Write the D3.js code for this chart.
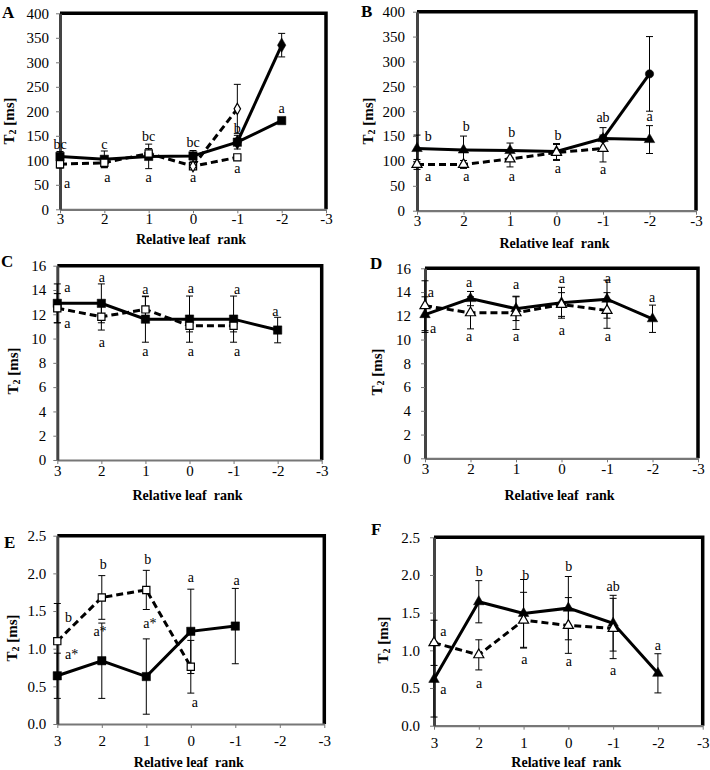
<!DOCTYPE html>
<html><head><meta charset="utf-8">
<script src="https://cdn.jsdelivr.net/npm/d3@7"></script>
<style>
body{margin:0;background:#fff}
svg{display:block}
text{font-family:"Liberation Serif","Times New Roman",serif;fill:#000}
</style>
</head><body>
<svg id="chart" width="710" height="770"></svg>
<script>
// ---------- data ----------
const ranks = [3, 2, 1, 0, -1, -2];
const xTickValues = [3, 2, 1, 0, -1, -2, -3];
const yTicksAB = [0, 50, 100, 150, 200, 250, 300, 350, 400];
const yTicksCD = [0, 2, 4, 6, 8, 10, 12, 14, 16];
const yTicksEF = [0, 0.5, 1.0, 1.5, 2.0, 2.5];

// Panel A
const A_filledSquare    = [108, 102, 108, 109, 137, 181];
const A_filledSquareErr = [10, 17, 25, 11, 14, 0];
const A_filledDiamond    = [null, null, null, null, 137, 335];
const A_filledDiamondErr = [null, null, null, null, 0, 24];
const A_openSquare    = [92, 95, 114, 88, 106, null];
const A_openSquareErr = [8, 10, 10, 5, 5, null];
const A_openDiamond    = [null, null, null, 88, 205, null];
const A_openDiamondErr = [null, null, null, 0, 50, null];
const A_labels = [[3, 133, "bc"], [2.84, 53, "a"], [2, 133, "c"], [1.93, 65, "a"], [1, 148, "bc"], [1, 65, "a"],
                  [0, 136, "bc"], [0, 65, "a"], [-1, 165, "b"], [-1, 84, "a"], [-2, 206, "a"]];

// Panel B
const B_filledTriangle    = [125, 122, 121, 119, 145, 143];
const B_filledTriangleErr = [27, 28, 15, 16, 22, 28];
const B_filledCircle    = [null, null, null, null, 145, 275];
const B_filledCircleErr = [null, null, null, null, 0, 75];
const B_openTriangle    = [93, 93, 104, 117, 125, null];
const B_openTriangleErr = [10, 8, 16, 16, 27, null];
const B_labels = [[2.76, 150, "b"], [2.76, 68, "a"], [1.94, 169, "b"], [1.94, 68, "a"], [0.96, 157, "b"], [0.96, 68, "a"],
                  [-0.03, 152, "b"], [-0.03, 85, "a"], [-1, 188, "ab"], [-1, 83, "a"], [-2, 190, "a"]];

// Panel C
const C_filledSquare    = [12.9, 12.9, 11.6, 11.6, 11.6, 10.7];
const C_filledSquareErr = [1.6, 1.6, 1.9, 1.9, 1.9, 1.05];
const C_openSquare    = [12.5, 11.8, 12.4, 11.05, 11.05, null];
const C_openSquareErr = [1.2, 1.1, 1.05, 0.5, 0.5, null];
const C_labels = [[2.77, 14.2, "a"], [2.77, 11.25, "a"], [1.99, 15.0, "a"], [1.99, 9.7, "a"], [1, 14.0, "a"], [1, 8.9, "a"],
                  [-0.03, 14.1, "a"], [-0.03, 8.9, "a"], [-1.08, 14.0, "a"], [-1.08, 8.9, "a"], [-1.95, 12.2, "a"]];

// Panel D
const D_filledTriangle    = [12.1, 13.45, 12.6, 13.1, 13.4, 11.75];
const D_filledTriangleErr = [1.5, 0.6, 1.0, 1.3, 1.6, 1.15];
const D_openTriangle    = [12.85, 12.25, 12.25, 12.95, 12.45, null];
const D_openTriangleErr = [2.1, 1.35, 1.4, 1.0, 1.5, null];
const D_labels = [[2.87, 14.0, "a"], [2.82, 10.9, "a"], [2.03, 14.8, "a"], [2.03, 10.25, "a"], [1, 14.6, "a"], [1, 10.25, "a"],
                  [-0.01, 15.1, "a"], [-0.01, 10.8, "a"], [-1.02, 15.15, "a"], [-1.02, 10.25, "a"], [-1.99, 13.5, "a"]];

// Panel E
const E_filledSquare    = [0.64, 0.84, 0.63, 1.23, 1.30, null];
const E_filledSquareErr = [0.3, 0.5, 0.5, 0.56, 0.5, null];
const E_openSquare    = [1.10, 1.68, 1.78, 0.76, null, null];
const E_openSquareErr = [0.5, 0.29, 0.26, 0.35, null, null];
const E_labels = [[2.75, 1.41, "b"], [2.68, 0.92, "a*"], [1.97, 2.12, "b"], [2.04, 1.23, "a*"], [0.97, 2.19, "b"], [0.92, 1.34, "a*"],
                  [0, 1.94, "a"], [-0.09, 0.29, "a"], [-1.03, 1.91, "a"]];

// Panel F
const F_filledTriangle    = [0.615, 1.645, 1.49, 1.56, 1.36, 0.695];
const F_filledTriangleErr = [0.5, 0.28, 0.45, 0.42, 0.37, 0.26];
const F_openTriangle    = [1.10, 0.94, 1.40, 1.33, 1.29, null];
const F_openTriangleErr = [0.3, 0.2, 0.37, 0.37, 0.4, null];
const F_labels = [[2.79, 1.25, "a"], [2.79, 0.48, "a"], [1.99, 2.05, "b"], [1.99, 0.56, "a"], [0.95, 1.99, "b"], [0.98, 0.885, "a"],
                  [-0.01, 2.11, "b"], [-0.01, 0.85, "a"], [-1, 1.85, "ab"], [-1, 0.73, "a"], [-2, 1.07, "a"]];

// ---------- layout ----------
const panels = [
  {letter: "A", box: [60, 13.3, 326, 209.3], ticks: yTicksAB, fmt: d3.format("d"), letterPos: [2, 18], ylab: [9, 121], xlabY: 239, xtickOff: 4, ytickGap: 11,
   series: [
     {v: A_filledSquare, e: A_filledSquareErr, shape: "square", filled: true},
     {v: A_filledDiamond, e: A_filledDiamondErr, shape: "diamond", filled: true},
     {v: A_openSquare, e: A_openSquareErr, shape: "square", filled: false},
     {v: A_openDiamond, e: A_openDiamondErr, shape: "diamond", filled: false}],
   labels: A_labels},
  {letter: "B", box: [417, 11.7, 696, 210.7], ticks: yTicksAB, fmt: d3.format("d"), letterPos: [361, 17], ylab: [368, 121], xlabY: 243, xtickOff: 5, ytickGap: 12,
   series: [
     {v: B_filledCircle, e: B_filledCircleErr, shape: "circle", filled: true},
     {v: B_filledTriangle, e: B_filledTriangleErr, shape: "triangle", filled: true},
     {v: B_openTriangle, e: B_openTriangleErr, shape: "triangle", filled: false}],
   labels: B_labels},
  {letter: "C", box: [57.3, 265.7, 321.7, 460], ticks: yTicksCD, fmt: d3.format("d"), letterPos: [1, 267], ylab: [13, 371], xlabY: 495, xtickOff: 5, ytickGap: 11,
   series: [
     {v: C_filledSquare, e: C_filledSquareErr, shape: "square", filled: true},
     {v: C_openSquare, e: C_openSquareErr, shape: "square", filled: false}],
   labels: C_labels},
  {letter: "D", box: [425, 268.3, 698, 458.3], ticks: yTicksCD, fmt: d3.format("d"), letterPos: [370, 269], ylab: [377, 372], xlabY: 495, xtickOff: 5, ytickGap: 14,
   series: [
     {v: D_filledTriangle, e: D_filledTriangleErr, shape: "triangle", filled: true},
     {v: D_openTriangle, e: D_openTriangleErr, shape: "triangle", filled: false}],
   labels: D_labels},
  {letter: "E", box: [57.3, 535.7, 324.3, 724], ticks: yTicksEF, fmt: d3.format(".1f"), letterPos: [4, 548], ylab: [12, 638], xlabY: 762, xtickOff: 11, ytickGap: 11,
   series: [
     {v: E_filledSquare, e: E_filledSquareErr, shape: "square", filled: true},
     {v: E_openSquare, e: E_openSquareErr, shape: "square", filled: false}],
   labels: E_labels},
  {letter: "F", box: [434, 537.3, 702.7, 725.7], ticks: yTicksEF, fmt: d3.format(".1f"), letterPos: [371, 535], ylab: [383, 640], xlabY: 762, xtickOff: 12, ytickGap: 14,
   series: [
     {v: F_filledTriangle, e: F_filledTriangleErr, shape: "triangle", filled: true},
     {v: F_openTriangle, e: F_openTriangleErr, shape: "triangle", filled: false}],
   labels: F_labels}
];

const svg = d3.select("#chart");

const symbolFor = {
  square: {filled: d3.symbol().type(d3.symbolSquare).size(70), open: d3.symbol().type(d3.symbolSquare).size(52)},
  diamond: {filled: d3.symbol().type(d3.symbolDiamond).size(60), open: d3.symbol().type(d3.symbolDiamond).size(36)},
  triangle: {filled: d3.symbol().type(d3.symbolTriangle).size(48), open: d3.symbol().type(d3.symbolTriangle).size(44)},
  circle: {filled: d3.symbol().type(d3.symbolCircle).size(55), open: d3.symbol().type(d3.symbolCircle).size(45)}
};

panels.forEach(p => {
  const [L, T, R, B] = p.box;
  const g = svg.append("g");
  const x = d3.scaleLinear().domain([3, -3]).range([L, R]);
  const yMax = p.ticks[p.ticks.length - 1];
  const y = d3.scaleLinear().domain([0, yMax]).range([B, T]);

  // frame (top and right)
  g.append("path").attr("d", `M${L},${T}H${R}V${B}`).attr("fill", "none").attr("stroke", "#000").attr("stroke-width", 3.5);

  // x axis
  const xAxis = d3.axisBottom(x).tickValues(xTickValues).tickFormat(d => String(d)).tickSize(4).tickSizeOuter(0);
  const gx = g.append("g").attr("transform", `translate(0,${B})`).call(xAxis);
  gx.attr("font-family", null);
  gx.select(".domain").attr("stroke", "#777").attr("stroke-width", 2.2);
  gx.selectAll(".tick line").attr("stroke", "#777").attr("stroke-width", 1);
  gx.selectAll(".tick text").attr("font-size", 15).attr("y", p.xtickOff).attr("dy", "0.71em");

  // y axis
  const yAxis = d3.axisLeft(y).tickValues(p.ticks).tickFormat(p.fmt).tickSize(4).tickSizeOuter(0).tickPadding(p.ytickGap - 4);
  const gy = g.append("g").attr("transform", `translate(${L},0)`).call(yAxis);
  gy.attr("font-family", null);
  gy.select(".domain").attr("stroke", "#444").attr("stroke-width", 3);
  gy.selectAll(".tick line").attr("stroke", "#777").attr("stroke-width", 1);
  gy.selectAll(".tick text").attr("font-size", 15);

  // axis titles
  g.append("text").attr("x", (L + R) / 2 - 2).attr("y", p.xlabY).attr("text-anchor", "middle").attr("dominant-baseline", "central")
    .attr("font-weight", "bold").attr("font-size", 14).style("white-space", "pre").text("Relative leaf  rank");
  const yl = g.append("text").attr("transform", `translate(${p.ylab[0]},${p.ylab[1]}) rotate(-90)`)
    .attr("text-anchor", "middle").attr("dominant-baseline", "central").attr("font-weight", "bold").attr("font-size", 15);
  yl.append("tspan").text("T");
  yl.append("tspan").attr("font-size", 10).attr("dy", 3).text("2");
  yl.append("tspan").attr("dy", -3).text(" [ms]");

  // panel letter
  g.append("text").attr("x", p.letterPos[0]).attr("y", p.letterPos[1]).attr("font-weight", "bold").attr("font-size", 17).text(p.letter);

  const pts = s => ranks.map((r, i) => ({r, v: s.v[i], e: s.e[i]})).filter(d => d.v != null);

  // error bars
  p.series.forEach(s => {
    pts(s).filter(d => d.e > 0).forEach(d => {
      const y1 = y(d.v + d.e), y2 = y(Math.max(0, d.v - d.e)), cx = x(d.r);
      g.append("path").attr("d", `M${cx},${y1}V${y2}M${cx - 3.5},${y1}H${cx + 3.5}M${cx - 3.5},${y2}H${cx + 3.5}`)
        .attr("fill", "none").attr("stroke", "#000").attr("stroke-width", 1);
    });
  });

  // lines
  const line = d3.line().defined(d => d.v != null).x(d => x(d.r)).y(d => y(d.v));
  p.series.forEach(s => {
    g.append("path").datum(ranks.map((r, i) => ({r, v: s.v[i]})))
      .attr("d", line).attr("fill", "none").attr("stroke", "#000").attr("stroke-width", 3)
      .attr("stroke-dasharray", s.filled ? null : "7,4");
  });

  // markers (filled first, open on top)
  [...p.series].sort((a, b) => (b.filled ? 1 : 0) - (a.filled ? 1 : 0)).forEach(s => {
    const sym = symbolFor[s.shape][s.filled ? "filled" : "open"];
    g.selectAll(null).data(pts(s)).enter().append("path")
      .attr("d", sym)
      .attr("transform", d => `translate(${x(d.r)},${y(d.v)})`)
      .attr("fill", s.filled ? "#000" : "#fff")
      .attr("stroke", "#000").attr("stroke-width", s.filled ? 0.5 : 1.2);
  });

  // significance letters
  g.selectAll(null).data(p.labels).enter().append("text")
    .attr("x", d => x(d[0])).attr("y", d => y(d[1]))
    .attr("text-anchor", "middle").attr("dominant-baseline", "central")
    .attr("font-size", 14).text(d => d[2]);
});
</script>
</body></html>
